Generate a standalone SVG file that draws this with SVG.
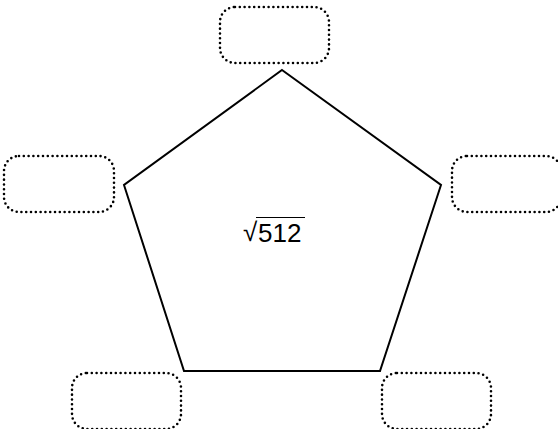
<svg xmlns="http://www.w3.org/2000/svg" width="558" height="429" viewBox="0 0 558 429">
<style>
.box{fill:none;stroke:#000;stroke-width:2.6;stroke-dasharray:0 4.8;stroke-linecap:round}
.pent{fill:none;stroke:#000;stroke-width:2;stroke-linejoin:miter}
.lbl{font-family:"Liberation Sans",Arial,sans-serif;fill:#000}
</style>
<rect width="558" height="429" fill="#fff"/>
<g id="pentagon">
<polygon class="pent" points="282,70 441,185 380,371 184,371 124,185"/>
<text class="lbl" x="243" y="241"><tspan font-size="26">√</tspan><tspan x="258" y="242" font-size="26">512</tspan></text>
<line x1="256" y1="217.5" x2="305" y2="217.5" stroke="#000" stroke-width="1"/>
</g>
<g id="box-top"><rect class="box" x="220" y="7" width="109" height="56" rx="15"/></g>
<g id="box-left"><rect class="box" x="4" y="156" width="110" height="56" rx="15"/></g>
<g id="box-right"><rect class="box" x="452" y="156" width="109" height="56" rx="15"/></g>
<g id="box-bottom-left"><rect class="box" x="72" y="373" width="109" height="56" rx="15"/></g>
<g id="box-bottom-right"><rect class="box" x="382" y="373" width="109" height="56" rx="15"/></g>
<g id="connectors"></g>
</svg>
